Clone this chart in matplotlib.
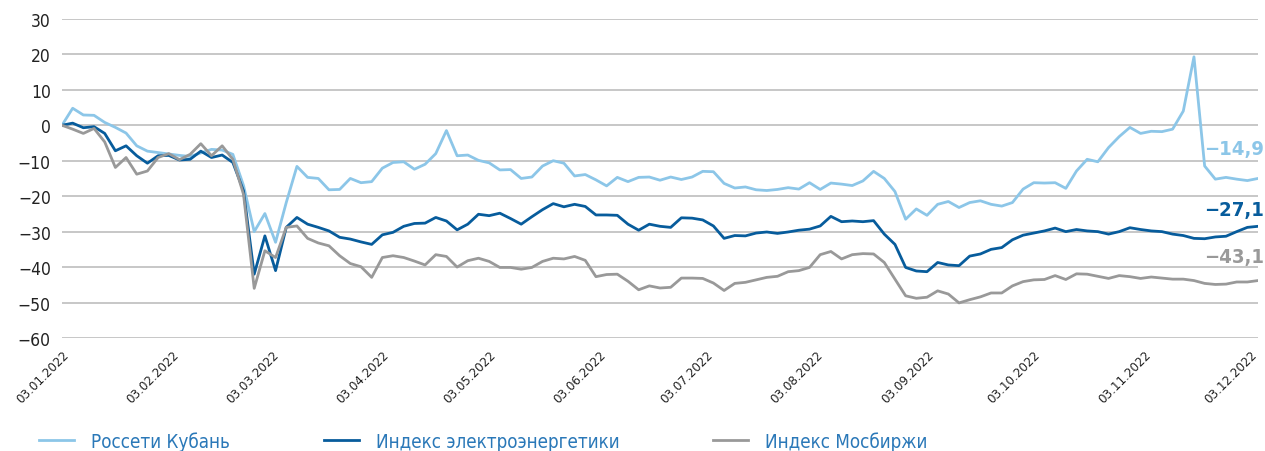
import numpy as np
import pandas as pd
import matplotlib
matplotlib.use("Agg")
import matplotlib.pyplot as plt
import matplotlib.dates as mdates
import matplotlib.transforms as mtransforms

plt.rcParams['font.family'] = ['DejaVu Sans']
plt.rcParams['font.stretch'] = 'condensed'

# values, one every 3 days from 03.01.2022
dates = pd.date_range("2022-01-03", periods=113, freq="3D")

kuban = [0, 4.8, 2.9, 2.8, 0.8, -0.6, -2.2, -5.8, -7.3, -7.7,
         -8.1, -8.5, -8.8, -7.8, -6.8, -7.0, -8.2, -17.0, -30.0, -24.9,
         -33.0, -21.8, -11.6, -14.7, -15.0, -18.2, -18.1, -15.0, -16.2, -15.9,
         -12.1, -10.5, -10.3, -12.4, -11.0, -8.0, -1.5, -8.6, -8.4, -9.9,
         -10.6, -12.6, -12.5, -15.0, -14.6, -11.5, -10.0, -10.7, -14.3, -13.9,
         -15.4, -17.1, -14.7, -15.9, -14.7, -14.6, -15.5, -14.6, -15.3, -14.6,
         -13.0, -13.1, -16.4, -17.7, -17.4, -18.2, -18.4, -18.1, -17.6, -18.0,
         -16.2, -18.1, -16.3, -16.6, -17.0, -15.7, -13.0, -15.0, -18.7, -26.5,
         -23.6, -25.4, -22.3, -21.5, -23.2, -21.8, -21.3, -22.3, -22.8, -21.8,
         -18.0, -16.2, -16.3, -16.2, -17.8, -12.9, -9.6, -10.3, -6.3, -3.2,
         -0.6, -2.3, -1.7, -1.8, -1.1, 4.0, 19.3, -11.5, -15.2, -14.7,
         -15.2, -15.6, -15.0]

power = [0, 0.6, -0.7, -0.4, -2.3, -7.2, -5.8, -8.6, -10.7, -8.6,
         -8.5, -9.8, -9.6, -7.3, -9.1, -8.4, -10.5, -18.5, -42.0, -31.2,
         -41.0, -28.8, -26.0, -27.9, -28.8, -29.8, -31.6, -32.1, -32.9, -33.6,
         -30.9, -30.2, -28.5, -27.7, -27.6, -26.0, -27.0, -29.5, -27.9, -25.1,
         -25.5, -24.8, -26.3, -27.9, -25.8, -23.8, -22.1, -23.0, -22.3, -22.9,
         -25.3, -25.3, -25.4, -27.9, -29.6, -27.9, -28.5, -28.8, -26.1, -26.2,
         -26.7, -28.4, -31.9, -31.1, -31.2, -30.4, -30.1, -30.5, -30.1, -29.6,
         -29.3, -28.4, -25.7, -27.2, -27.0, -27.2, -26.9, -30.7, -33.6, -40.1,
         -41.1, -41.3, -38.7, -39.4, -39.6, -36.9, -36.3, -35.0, -34.5, -32.3,
         -31.0, -30.4, -29.8, -29.0, -30.0, -29.4, -29.8, -30.0, -30.7, -30.0,
         -28.9, -29.4, -29.8, -30.0, -30.7, -31.1, -31.9, -32.0, -31.5, -31.3,
         -30.0, -28.8, -28.5]

moex = [0, -1.1, -2.3, -0.9, -4.7, -11.9, -9.1, -13.8, -12.9, -9.1,
        -8.0, -9.7, -8.2, -5.2, -8.6, -5.8, -9.6, -19.5, -46.0, -35.4,
        -37.3, -28.8, -28.4, -31.9, -33.2, -34.0, -36.8, -39.0, -39.9, -42.9,
        -37.3, -36.8, -37.3, -38.3, -39.4, -36.5, -37.0, -40.0, -38.2, -37.5,
        -38.4, -40.1, -40.1, -40.6, -40.1, -38.4, -37.5, -37.7, -37.0, -38.1,
        -42.7, -42.1, -42.0, -44.0, -46.4, -45.3, -45.9, -45.7, -43.1, -43.1,
        -43.2, -44.5, -46.6, -44.6, -44.3, -43.6, -42.9, -42.6, -41.3, -41.0,
        -40.1, -36.5, -35.6, -37.7, -36.5, -36.2, -36.3, -38.7, -43.4, -48.1,
        -48.8, -48.5, -46.7, -47.6, -50.1, -49.2, -48.4, -47.3, -47.3, -45.3,
        -44.1, -43.6, -43.5, -42.4, -43.5, -41.9, -42.0, -42.6, -43.2, -42.4,
        -42.7, -43.2, -42.8, -43.1, -43.4, -43.4, -43.8, -44.6, -44.9, -44.8,
        -44.2, -44.2, -43.8]

names = ["Россети Кубань", "Индекс электроэнергетики", "Индекс Мосбиржи"]
end_labels = ["−14,9", "−27,1", "−43,1"]
colors = ["#8CC6E8", "#075C9C", "#999999"]

fig = plt.figure(figsize=(12.65, 4.52), dpi=100)
ax = fig.add_axes([0.049, 0.25, 0.9455, 0.706])

for s, name, c in zip([kuban, power, moex], names, colors):
    ax.plot(dates, s, color=c, lw=2.0, label=name, zorder=3)

ax.set_ylim(-60, 30)
ax.set_yticks(np.arange(-60, 31, 10))
ax.set_xlim(dates[0], dates[-1])
ax.grid(axis="y", color="#BDBDBD", lw=1.2, zorder=0)
for sp in ax.spines.values():
    sp.set_visible(False)
ax.tick_params(length=0)
ax.tick_params(axis="y", labelsize=12.5, colors="#222222", pad=8)

ax.xaxis.set_major_locator(mdates.MonthLocator(bymonthday=3))
ax.xaxis.set_major_formatter(mdates.DateFormatter("%d.%m.%Y"))
shift = mtransforms.ScaledTranslation(-5 / 100, 0, fig.dpi_scale_trans)
for lab in ax.get_xticklabels():
    lab.set_rotation(45)
    lab.set_ha("right")
    lab.set_va("top")
    lab.set_rotation_mode("anchor")
    lab.set_fontsize(9.5)
    lab.set_color("#222222")
    lab.set_transform(lab.get_transform() + shift)
ax.tick_params(axis="x", pad=7)

# final values at the right end
for txt, c, yp in zip(end_labels, colors, [149, 211, 257]):
    fig.text(1264 / 1265, 1 - yp / 452, txt, color=c, fontsize=14.5,
             fontweight="bold", ha="right", va="center")

leg = fig.legend(loc="center left", bbox_to_anchor=(0.031, 0.022), ncol=3,
                 frameon=False, fontsize=13.5, handlelength=1.87,
                 handletextpad=0.9, columnspacing=5.0, borderpad=0,
                 borderaxespad=0)
for t in leg.get_texts():
    t.set_color("#2A78B8")

fig.savefig("out.png", dpi=100)
